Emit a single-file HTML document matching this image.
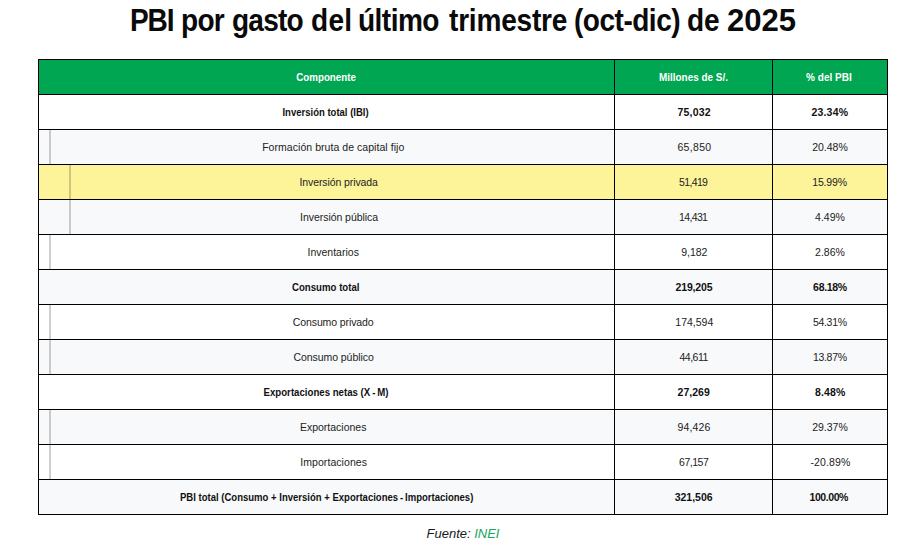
<!DOCTYPE html>
<html><head><meta charset="utf-8">
<style>
html,body{margin:0;padding:0;background:#fff;}
body{width:924px;height:551px;overflow:hidden;position:relative;font-family:"Liberation Sans",sans-serif;color:#222;}
h1{position:absolute;left:0;top:0px;width:924px;margin:0;text-align:center;font-size:30.5px;font-weight:bold;line-height:40px;color:#0a0a0a;}
h1 b{position:absolute;top:0;left:0;transform-origin:0 50%;white-space:nowrap;font-weight:bold;}
table{position:absolute;left:38px;top:59px;border-collapse:collapse;table-layout:fixed;}
td,th{border:1px solid #000;height:34px;padding:0;text-align:center;font-size:10.5px;}
td span,th span{position:relative;white-space:nowrap;}
th{background:#00a651;color:#fff;font-weight:bold;}
tr.g td{background:#f8f9fa;}
tr.y td{background:#fdf49a;}
td.b{font-weight:bold;color:#111;}
td.c{position:relative;padding-left:15px;}
td.c2{padding-left:26px;}
.l1,.l2{position:absolute;top:0;bottom:0;width:2px;background:rgba(0,0,0,0.19);}
.l1{left:10px;}
.l2{left:30px;}
.src{position:absolute;left:1px;top:526px;width:924px;text-align:center;font-style:italic;font-size:13px;color:#1a1a1a;}
.src span{color:#20a659;}
</style></head><body>
<h1><b id="w0" style="left:129.67px;letter-spacing:-1.197px;transform:scaleX(0.9200)">PBI</b><b id="w1" style="left:181.04px;letter-spacing:-0.800px;transform:scaleX(0.9200)">por</b><b id="w2" style="left:231.79px;letter-spacing:-0.867px;transform:scaleX(0.9200)">gasto</b><b id="w3" style="left:310.70px;letter-spacing:0.315px;transform:scaleX(0.9200)">del</b><b id="w4" style="left:358.03px;letter-spacing:-0.593px;transform:scaleX(0.9200)">último</b><b id="w5" style="left:448.59px;letter-spacing:-0.226px;transform:scaleX(0.9200)">trimestre</b><b id="w6" style="left:574.33px;letter-spacing:-0.555px;transform:scaleX(0.9200)">(oct-dic)</b><b id="w7" style="left:687.18px;letter-spacing:-0.055px;transform:scaleX(0.9200)">de</b><b id="w8" style="left:726.67px;letter-spacing:0.000px;transform:scaleX(1.0190)">2025</b></h1>
<table>
<colgroup><col style="width:576px"><col style="width:158px"><col style="width:115px"></colgroup>
<tr><th><span id="h0" style="display:inline-block;transform:scaleX(0.9282);left:-0.56px">Componente</span></th><th><span id="h1" style="display:inline-block;transform:scaleX(0.9446);left:0.16px">Millones de S/.</span></th><th><span id="h2" style="display:inline-block;transform:scaleX(0.9533);left:-0.88px">% del PBI</span></th></tr>
<tr><td class="b"><span id="r0a" style="display:inline-block;transform:scaleX(0.9064);left:-0.48px">Inversión total (IBI)</span></td><td class="b"><span id="r0b" style="letter-spacing:0.18px;left:0.64px">75,032</span></td><td class="b"><span id="r0c" style="letter-spacing:0.18px;left:-0.16px">23.34%</span></td></tr>
<tr class="g"><td class="c"><i class="l1"></i><span id="r1a" style="letter-spacing:0.05px;left:-0.77px">Formación bruta de capital fijo</span></td><td><span id="r1b" style="letter-spacing:0.32px;left:0.96px">65,850</span></td><td><span id="r1c" style="letter-spacing:-0.00px">20.48%</span></td></tr>
<tr class="y"><td class="c c2"><i class="l2"></i><span id="r2a" style="letter-spacing:-0.10px;left:-0.84px">Inversión privada</span></td><td><span id="r2b" style="letter-spacing:-0.64px;left:-0.32px">51,419</span></td><td><span id="r2c" style="letter-spacing:-0.16px;left:-0.48px">15.99%</span></td></tr>
<tr class="g"><td class="c c2"><i class="l2"></i><span id="r3a" style="letter-spacing:-0.05px;left:-0.43px">Inversión pública</span></td><td><span id="r3b" style="letter-spacing:-0.64px;left:-0.32px">14,431</span></td><td><span id="r3c" style="letter-spacing:0.00px">4.49%</span></td></tr>
<tr><td class="c"><i class="l1"></i><span id="r4a" style="letter-spacing:-0.00px;left:-0.80px">Inventarios</span></td><td><span id="r4b" style="letter-spacing:0.00px;left:0.80px">9,182</span></td><td><span id="r4c" style="letter-spacing:0.00px">2.86%</span></td></tr>
<tr class="g"><td class="b"><span id="r5a" style="display:inline-block;transform:scaleX(0.9179);left:-0.48px">Consumo total</span></td><td class="b"><span id="r5b" style="letter-spacing:-0.17px;left:0.47px">219,205</span></td><td class="b"><span id="r5c" style="letter-spacing:-0.30px">68.18%</span></td></tr>
<tr><td class="c"><i class="l1"></i><span id="r6a" style="letter-spacing:-0.11px;left:-0.86px">Consumo privado</span></td><td><span id="r6b" style="letter-spacing:0.00px;left:0.80px">174,594</span></td><td><span id="r6c" style="letter-spacing:-0.32px;left:-0.16px">54.31%</span></td></tr>
<tr class="g"><td class="c"><i class="l1"></i><span id="r7a" style="letter-spacing:-0.05px;left:-0.43px">Consumo público</span></td><td><span id="r7b" style="letter-spacing:-0.48px;left:0.16px">44,611</span></td><td><span id="r7c" style="letter-spacing:-0.32px;left:-0.16px">13.87%</span></td></tr>
<tr><td class="b"><span id="r8a" style="display:inline-block;transform:scaleX(0.9185);left:-0.08px">Exportaciones netas (X&#8201;-&#8201;M)</span></td><td class="b"><span id="r8b" style="letter-spacing:0.02px;left:0.16px">27,269</span></td><td class="b"><span id="r8c" style="letter-spacing:0.10px;left:0.20px">8.48%</span></td></tr>
<tr class="g"><td class="c"><i class="l1"></i><span id="r9a" style="letter-spacing:0.00px;left:-0.80px">Exportaciones</span></td><td><span id="r9b" style="letter-spacing:0.16px;left:0.48px">94,426</span></td><td><span id="r9c" style="letter-spacing:0.00px">29.37%</span></td></tr>
<tr><td class="c"><i class="l1"></i><span id="r10a" style="letter-spacing:0.07px;left:-0.37px">Importaciones</span></td><td><span id="r10b" style="letter-spacing:-0.48px;left:0.16px">67,157</span></td><td><span id="r10c" style="letter-spacing:0.13px;left:0.47px">-20.89%</span></td></tr>
<tr class="g"><td class="b"><span id="r11a" style="display:inline-block;transform:scaleX(0.9072);left:-0.16px">PBI total (Consumo + Inversión + Exportaciones&#8201;-&#8201;Importaciones)</span></td><td class="b"><span id="r11b" style="letter-spacing:-0.03px;left:0.13px">321,506</span></td><td class="b"><span id="r11c" style="letter-spacing:-0.43px;left:-1.27px">100.00%</span></td></tr>
</table>
<div class="src">Fuente: <span>INEI</span></div>
</body></html>
